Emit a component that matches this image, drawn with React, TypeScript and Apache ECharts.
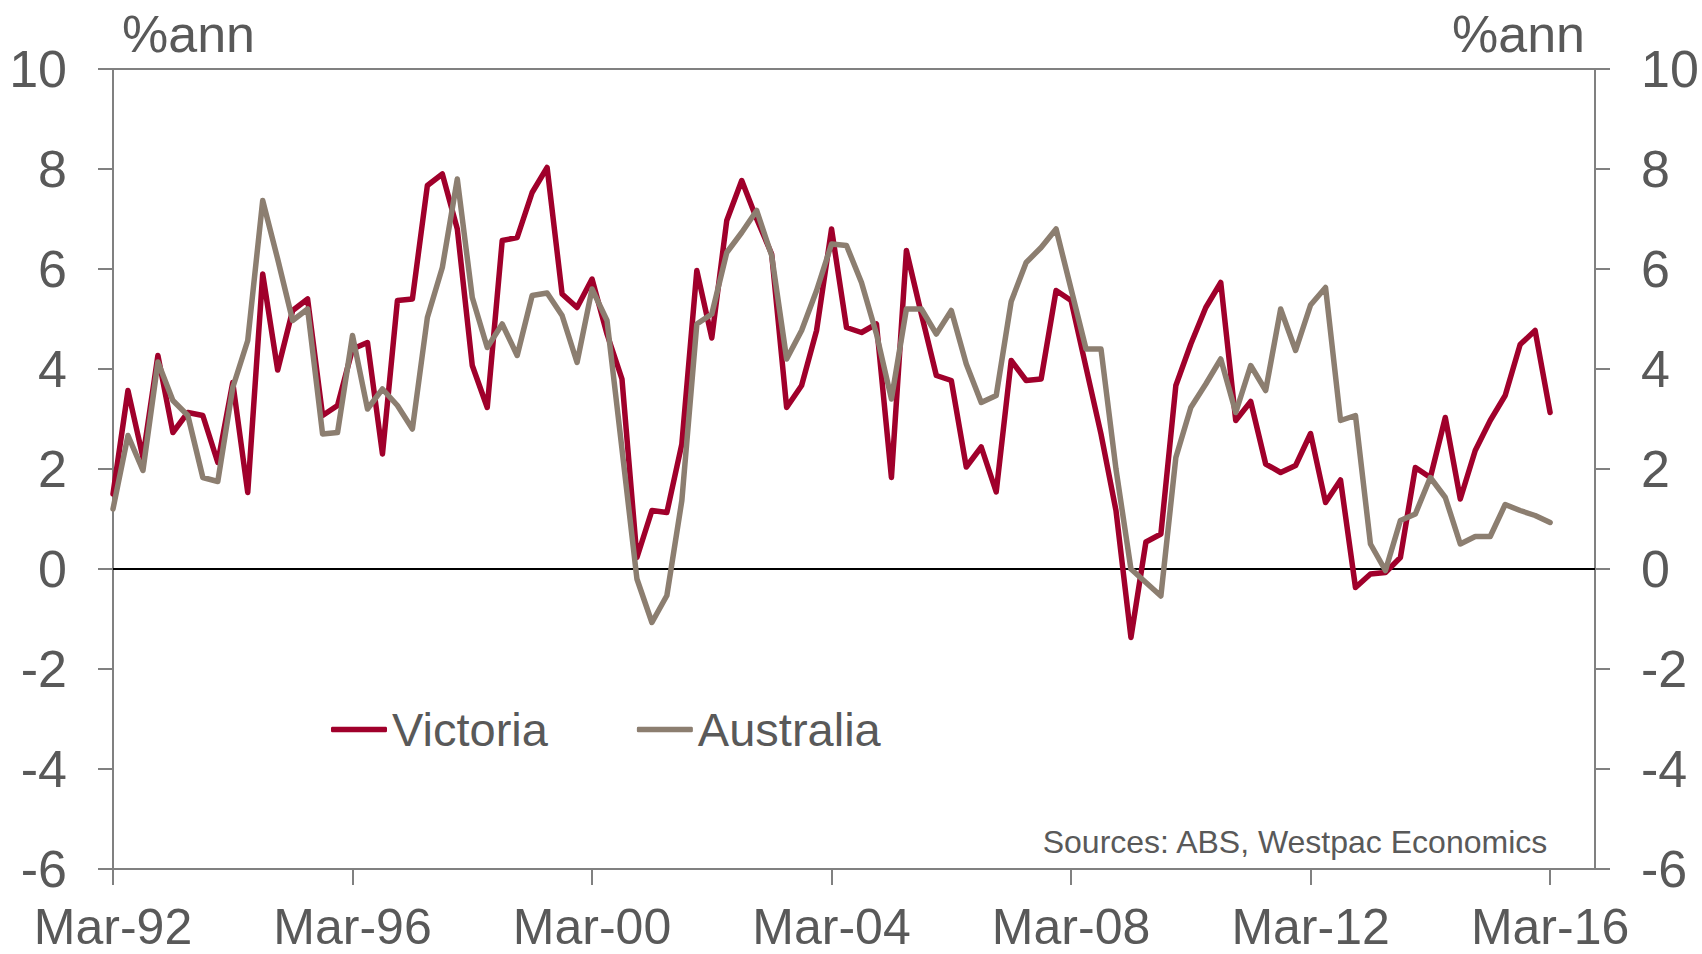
import React, { useEffect, useRef } from "react";
import * as echarts from "echarts";

const months = ["Mar", "Jun", "Sep", "Dec"];
const years = [92, 93, 94, 95, 96, 97, 98, 99, 0, 1, 2, 3, 4, 5, 6, 7, 8, 9, 10, 11, 12, 13, 14, 15, 16];
const categories: string[] = [];
years.forEach((y) => months.forEach((m) => categories.push(`${m}-${String(y).padStart(2, "0")}`)));

const victoria = [
  1.5, 3.57, 2.23, 4.27, 2.73, 3.13, 3.07, 2.13, 3.73, 1.53, 5.9, 3.98, 5.17, 5.4, 3.07, 3.27, 4.4, 4.53, 2.3, 5.37, 5.4,
  7.67, 7.9, 6.8, 4.07, 3.23, 6.57, 6.63, 7.53, 8.03, 5.5, 5.23, 5.8, 4.7, 3.8, 0.23, 1.17, 1.13, 2.5, 5.97, 4.62,
  6.97, 7.77, 7.0, 6.3, 3.23, 3.67, 4.77, 6.8, 4.83, 4.73, 4.9, 1.83, 6.37, 5.1, 3.87, 3.77, 2.04, 2.44, 1.54, 4.17,
  3.77, 3.8, 5.57, 5.37, 4.03, 2.7, 1.17, -1.37, 0.54, 0.7, 3.67, 4.5, 5.23, 5.73, 2.97, 3.35, 2.1, 1.93, 2.07, 2.71,
  1.33, 1.78, -0.37, -0.1, -0.07, 0.23, 2.03, 1.83, 3.03, 1.4, 2.37, 2.97, 3.47, 4.49, 4.77, 3.13,
];

const australia = [
  1.2, 2.67, 1.97, 4.14, 3.37, 3.07, 1.83, 1.75, 3.63, 4.57, 7.37, 6.2, 4.97, 5.2, 2.7, 2.73, 4.67, 3.2, 3.6, 3.27, 2.8,
  5.03, 6.03, 7.8, 5.43, 4.43, 4.9, 4.27, 5.47, 5.52, 5.07, 4.13, 5.6, 4.97, 2.4, -0.2, -1.07, -0.53, 1.37, 4.9, 5.1,
  6.33, 6.73, 7.17, 6.27, 4.2, 4.77, 5.57, 6.5, 6.47, 5.73, 4.7, 3.4, 5.2, 5.2, 4.7, 5.17, 4.1, 3.33, 3.47, 5.35,
  6.13, 6.43, 6.8, 5.6, 4.4, 4.4, 2.0, 0.0, -0.27, -0.54, 2.23, 3.23, 3.7, 4.2, 3.13, 4.07, 3.57, 5.2, 4.37, 5.28,
  5.63, 2.97, 3.07, 0.5, -0.03, 0.97, 1.1, 1.83, 1.43, 0.5, 0.65, 0.65, 1.29, 1.17, 1.07, 0.93,
];

const seriesNames = ["Victoria", "Australia"];
const unitLabel = "%ann";
const sourceText = "Sources: ABS, Westpac Economics";

const FONT = "'Liberation Sans', Arial, sans-serif";
const TEXT = "#595959";
const AXIS = "#808080";
const RED = "#A0002B";
const GREY = "#8C7E70";

export default function App() {
  const ref = useRef<HTMLDivElement>(null);
  useEffect(() => {
    if (!ref.current) return;
    const chart = echarts.init(ref.current, null, { renderer: "svg" });
    const yAxisBase = {
      type: "value",
      min: -6,
      max: 10,
      interval: 2,
      splitLine: { show: false },
      axisLine: { show: true, lineStyle: { color: AXIS, width: 2 } },
      axisTick: { show: true, inside: false, length: 15, lineStyle: { color: AXIS, width: 2 } },
      axisLabel: { color: TEXT, fontSize: 52, fontFamily: FONT, margin: 46 },
    };
    chart.setOption({
      animation: false,
      backgroundColor: "#ffffff",
      grid: { left: 113, right: 107, top: 69, bottom: 85, containLabel: false },
      xAxis: [
        {
          type: "category",
          data: categories,
          boundaryGap: false,
          position: "bottom",
          axisLine: { show: true, onZero: false, lineStyle: { color: AXIS, width: 2 } },
          axisTick: { show: true, inside: false, length: 16, interval: 15, lineStyle: { color: AXIS, width: 2 } },
          axisLabel: { interval: 15, color: TEXT, fontSize: 50, lineHeight: 36, fontFamily: FONT, margin: 40 },
          splitLine: { show: false },
        },
        {
          type: "category",
          data: categories,
          boundaryGap: false,
          position: "top",
          axisLine: { show: true, onZero: false, lineStyle: { color: AXIS, width: 2 } },
          axisTick: { show: false },
          axisLabel: { show: false },
          splitLine: { show: false },
        },
      ],
      yAxis: [
        { ...yAxisBase, position: "left" },
        { ...yAxisBase, position: "right" },
      ],
      legend: {
        data: seriesNames,
        left: 326,
        top: 701,
        icon: "roundRect",
        itemWidth: 56,
        itemHeight: 5.5,
        itemGap: 89,
        textStyle: { color: TEXT, fontSize: 47, fontFamily: FONT },
      },
      series: [
        {
          name: seriesNames[0],
          type: "line",
          data: victoria,
          symbol: "none",
          color: RED,
          lineStyle: { color: RED, width: 5.5, join: "round", cap: "round" },
          z: 3,
          markLine: {
            silent: true,
            symbol: "none",
            label: { show: false },
            lineStyle: { color: "#000000", width: 2, type: "solid" },
            data: [{ yAxis: 0 }],
            z: 1,
          },
        },
        {
          name: seriesNames[1],
          type: "line",
          data: australia,
          symbol: "none",
          color: GREY,
          lineStyle: { color: GREY, width: 5.5, join: "round", cap: "round" },
          z: 4,
        },
      ],
      graphic: [
        {
          type: "text",
          left: 122,
          top: 8,
          style: { text: unitLabel, fill: TEXT, fontSize: 52, fontFamily: FONT },
        },
        {
          type: "text",
          right: 117,
          top: 8,
          style: { text: unitLabel, fill: TEXT, fontSize: 52, fontFamily: FONT },
        },
        {
          type: "text",
          right: 153,
          top: 826,
          style: { text: sourceText, fill: TEXT, fontSize: 32, fontFamily: FONT },
        },
      ],
    });
    return () => chart.dispose();
  }, []);
  return (
    <div
      ref={ref}
      style={{ position: "fixed", left: 0, top: 0, width: 1702, height: 954, background: "#fff" }}
    />
  );
}
